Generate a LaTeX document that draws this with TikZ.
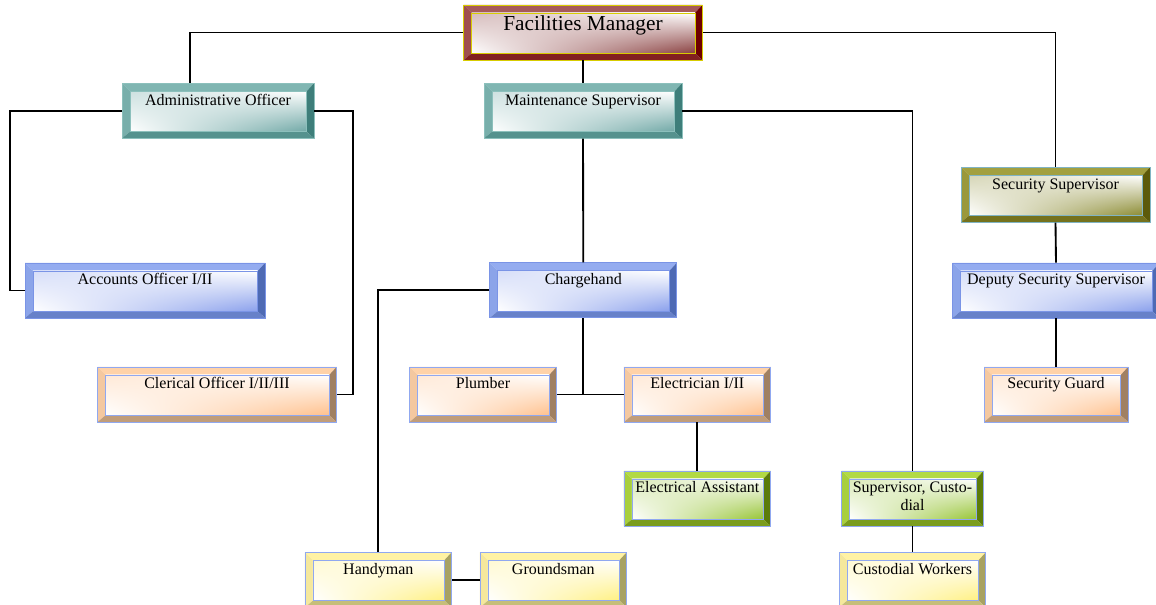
\documentclass[tikz,border=0pt]{standalone}
\usepackage{fontspec}
\setmainfont{Liberation Serif}
\usetikzlibrary{shadings}
\definecolor{maroontop}{HTML}{A65A5A}
\definecolor{maroondark}{HTML}{6E0000}
\definecolor{maroonface}{HTML}{8A4040}
\definecolor{maroonline}{HTML}{D8CC00}
\definecolor{tealtop}{HTML}{80B6B2}
\definecolor{tealdark}{HTML}{3E7E7A}
\definecolor{tealface}{HTML}{70A8A6}
\definecolor{tealline}{HTML}{8CC0BC}
\definecolor{olivetop}{HTML}{A2A040}
\definecolor{olivedark}{HTML}{5C5A0A}
\definecolor{oliveface}{HTML}{8A8A30}
\definecolor{oliveline}{HTML}{80B4C4}
\definecolor{bluetop}{HTML}{94ACF0}
\definecolor{bluedark}{HTML}{4E6AB4}
\definecolor{blueface}{HTML}{8AA0EC}
\definecolor{blueline}{HTML}{7A94E6}
\definecolor{peachtop}{HTML}{FFD2A8}
\definecolor{peachdark}{HTML}{A08062}
\definecolor{peachface}{HTML}{FFC08C}
\definecolor{peachline}{HTML}{90A8F0}
\definecolor{greentop}{HTML}{B2DA44}
\definecolor{greendark}{HTML}{5C7C0A}
\definecolor{greenface}{HTML}{96C434}
\definecolor{greenline}{HTML}{90A8F0}
\definecolor{yellowtop}{HTML}{FFF2A4}
\definecolor{yellowdark}{HTML}{A8A262}
\definecolor{yellowface}{HTML}{FFF080}
\definecolor{yellowline}{HTML}{90A8F0}
\colorlet{bvtop}{bluetop}
\colorlet{bvdark}{bluedark}
\colorlet{bvface}{blueface}
\colorlet{bvline}{blueline}
\newcommand\usebevel[1]{\colorlet{bvtop}{#1top}\colorlet{bvdark}{#1dark}\colorlet{bvface}{#1face}\colorlet{bvline}{#1line}}

\begin{document}
\begin{tikzpicture}[x=0.75pt, y=-0.75pt]
\tikzstyle{orgbox} = [rectangle, inner sep=0pt, minimum height=41.25pt, text height=16.5pt, text depth=24.75pt, draw=bvline, line width=0.6pt, font=\fontsize{12}{13}\selectfont,
  path picture={
    \path (path picture bounding box.south west) coordinate (o1)
          (path picture bounding box.north east) coordinate (o3)
          ([shift={(6pt,5pt)}]o1) coordinate (i1)
          ([shift={(-5.5pt,-6pt)}]o3) coordinate (i3);
    \fill[bvtop] (o1 |- o3) -- (o3) -- (i3) -- (i1 |- i3) -- cycle;
    \fill[bvtop!88!bvdark] (o1 |- o3) -- (i1 |- i3) -- (i1) -- (o1) -- cycle;
    \fill[bvdark] (o3) -- (o3 |- o1) -- (i3 |- i1) -- (i3) -- cycle;
    \fill[bvdark!65!bvtop] (o1) -- (i1) -- (i3 |- i1) -- (o3 |- o1) -- cycle;
    \shade[upper left=bvface!35, upper right=white, lower left=white, lower right=bvface] (i1) rectangle (i3);
    \draw[bvline, line width=0.6pt] (i1) rectangle (i3);
  }]
\tikzstyle{maroonbox} = [/utils/exec={\usebevel{maroon}}, orgbox]
\tikzstyle{tealbox} = [/utils/exec={\usebevel{teal}}, orgbox]
\tikzstyle{olivebox} = [/utils/exec={\usebevel{olive}}, orgbox]
\tikzstyle{bluebox} = [/utils/exec={\usebevel{blue}}, orgbox]
\tikzstyle{peachbox} = [/utils/exec={\usebevel{peach}}, orgbox]
\tikzstyle{greenbox} = [/utils/exec={\usebevel{green}}, orgbox]
\tikzstyle{yellowbox} = [/utils/exec={\usebevel{yellow}}, orgbox]
\tikzstyle{link} = [draw=black, line width=1.4pt]

\useasboundingbox (0,0) rectangle (1156,605);

% Top level
\node (fm) [maroonbox, minimum width=179pt, font=\fontsize{16}{19}\selectfont, text height=19.5pt, text depth=21.75pt] at (583,32.5) {Facilities Manager};

% Second level
\node (admin) [tealbox, minimum width=144pt] at (218,110.8) {Administrative Officer};
\node (maint) [tealbox, minimum width=148.5pt] at (583,110.8) {Maintenance Supervisor};
\node (secsup) [olivebox, minimum width=141.75pt] at (1055.5,194.8) {Security Supervisor};

% Admin side
\node (accounts) [bluebox, minimum width=180pt] at (145,290.5) {Accounts Officer I/II};
\node (clerical) [peachbox, minimum width=179.25pt] at (217,394.5) {Clerical Officer I/II/III};

% Maintenance side
\node (charge) [bluebox, minimum width=140.25pt] at (583.3,290.3) {Chargehand};
\node (plumber) [peachbox, minimum width=110.25pt] at (483,394.5) {Plumber};
\node (electrician) [peachbox, minimum width=110pt] at (697.3,394.5) {Electrician I/II};
\node (elecasst) [greenbox, minimum width=110pt] at (697.3,498.5) {Electrical Assistant};
\node (supcust) [greenbox, minimum width=106.5pt] at (912.5,498.5) {\begin{tabular}[t]{@{}c@{}}Supervisor, Custo-\\dial\end{tabular}};
\node (handyman) [yellowbox, minimum width=110pt] at (378.3,579.8) {Handyman};
\node (groundsman) [yellowbox, minimum width=110pt] at (553.3,579.8) {Groundsman};
\node (custworkers) [yellowbox, minimum width=110pt] at (912.5,579.8) {Custodial Workers};

% Security side
\node (deputy) [bluebox, minimum width=155.25pt] at (1056,290.5) {Deputy Security Supervisor};
\node (guard) [peachbox, minimum width=108pt] at (1056,394.5) {Security Guard};

% Connectors
\draw[link] (fm.west) -| ([xshift=-21pt]admin.north);
\draw[link] (fm.east) -| (secsup.north);
\draw[link] (fm.south) -- (maint.north);
\draw[link] (admin.west) -- ++(-112,0) |- (accounts.west);
\draw[link] (admin.east) -- ++(39,0) |- (clerical.east);
\draw[link] (maint.south) -- (charge.north);
\draw[link] (maint.east) -| (supcust.north);
\draw[link] (charge.west) -| (handyman.north);
\draw[link] (charge.south) |- (plumber.east);
\draw[link] (plumber.east) -- (electrician.west);
\draw[link] (electrician.south) -- (elecasst.north);
\draw[link] (handyman.east) -- (groundsman.west);
\draw[link] (supcust.south) -- (custworkers.north);
\draw[link] (secsup.south) -- (deputy.north);
\draw[link] (deputy.south) -- (guard.north);
\end{tikzpicture}
\end{document}
